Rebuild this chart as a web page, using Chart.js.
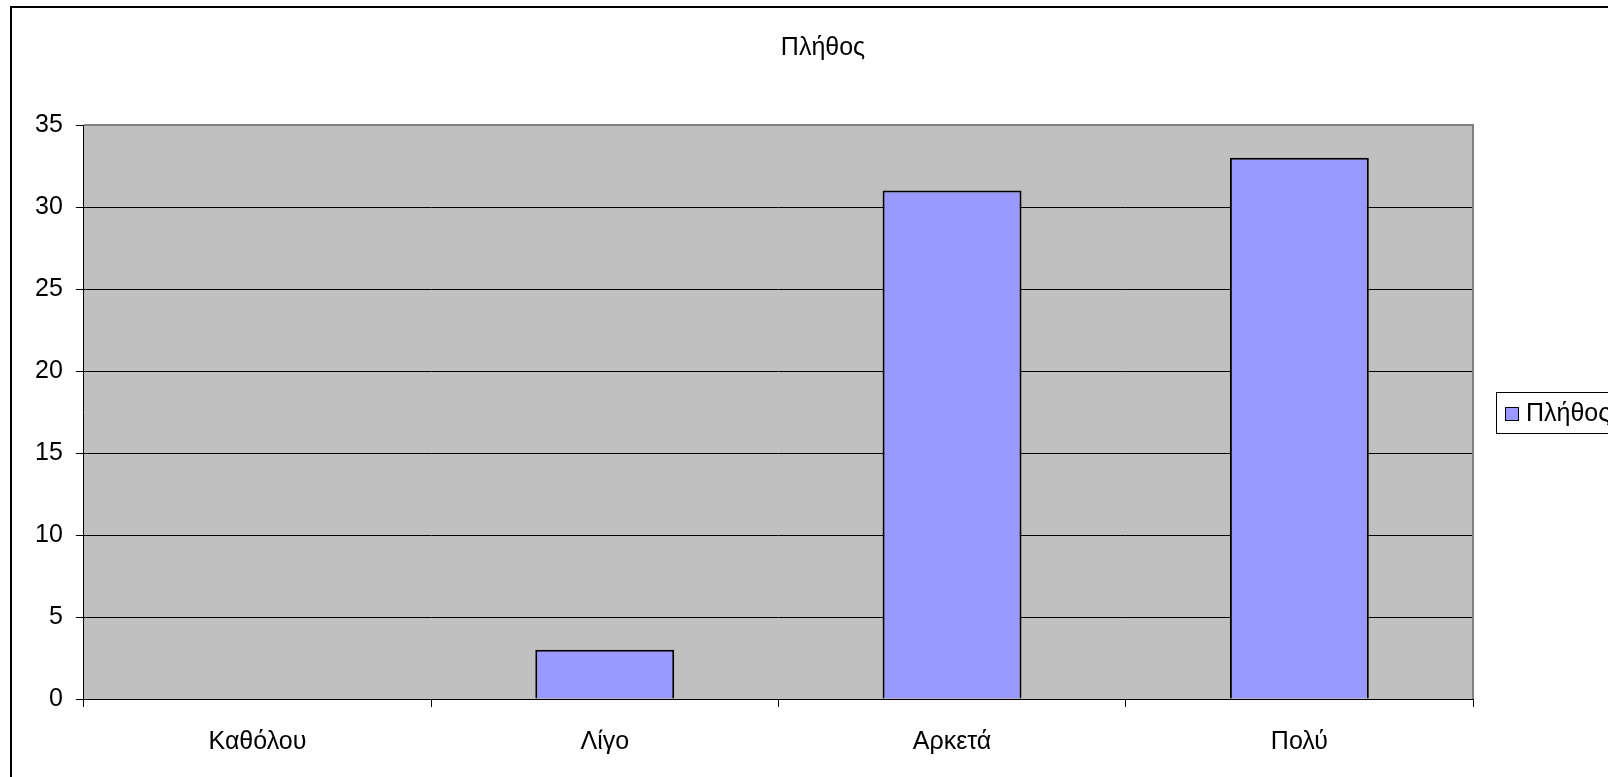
<!DOCTYPE html>
<html>
<head>
<meta charset="utf-8">
<script src="https://cdn.jsdelivr.net/npm/chart.js@4/dist/chart.umd.min.js"></script>
<style>
  html, body { margin: 0; padding: 0; background: #ffffff; }
  #wrap { width: 1608px; height: 777px; position: relative; }
</style>
</head>
<body>
<div id="wrap"><canvas id="plethosChart"></canvas></div>
<script>
const categories = ['Καθόλου', 'Λίγο', 'Αρκετά', 'Πολύ'];
const counts = [0, 3, 31, 33];
const seriesName = 'Πλήθος';
const chartTitle = 'Πλήθος';
const yTicks = [0, 5, 10, 15, 20, 25, 30, 35];

const FONT = "'Liberation Sans', Arial, sans-serif";
const FONT_SIZE = 25;

// grey plot background, outer frame, title and the boxed legend on the right
const excelLook = {
    id: 'excelLook',
    beforeDraw(chart) {
        const { ctx, chartArea: a } = chart;
        ctx.save();
        ctx.fillStyle = '#ffffff';
        ctx.fillRect(0, 0, chart.width, chart.height);
        ctx.strokeStyle = '#000000';
        ctx.lineWidth = 2;
        ctx.strokeRect(11, 7, chart.width + 50, chart.height + 50);
        ctx.fillStyle = '#c0c0c0';
        ctx.fillRect(a.left, a.top, a.right - a.left, a.bottom - a.top);

        // title (the Excel frame is wider than the picture, so it sits right of the plot centre)
        ctx.fillStyle = '#000000';
        ctx.font = FONT_SIZE + 'px ' + FONT;
        ctx.textAlign = 'center';
        ctx.textBaseline = 'middle';
        ctx.fillText(chartTitle, 823, 48);
        ctx.restore();
    },
    afterDraw(chart) {
        const { ctx, chartArea: a } = chart;
        ctx.save();
        ctx.strokeStyle = '#808080';
        ctx.lineWidth = 2;
        ctx.beginPath();
        ctx.moveTo(a.left, a.top);
        ctx.lineTo(a.right, a.top);
        ctx.lineTo(a.right, a.bottom);
        ctx.stroke();

        // legend
        const ds = chart.data.datasets[0];
        const lx = a.right + 23, ly = 392;
        ctx.fillStyle = '#ffffff';
        ctx.fillRect(lx, ly, 200, 41);
        ctx.strokeStyle = '#000000';
        ctx.lineWidth = 1;
        ctx.strokeRect(lx + 0.5, ly + 0.5, 200, 41);
        ctx.fillStyle = ds.backgroundColor;
        ctx.fillRect(lx + 9, ly + 15, 14, 14);
        ctx.strokeRect(lx + 9.5, ly + 15.5, 13, 13);
        ctx.fillStyle = '#000000';
        ctx.font = FONT_SIZE + 'px ' + FONT;
        ctx.textBaseline = 'middle';
        ctx.fillText(ds.label, lx + 30, ly + 22);
        ctx.restore();
    }
};

const ctx = document.getElementById('plethosChart').getContext('2d');

new Chart(ctx, {
    type: 'bar',
    data: {
        labels: categories,
        datasets: [{
            label: seriesName,
            data: counts,
            backgroundColor: '#9999ff',
            borderColor: '#000000',
            borderWidth: 2,
            categoryPercentage: 1,
            barPercentage: 0.4
        }]
    },
    options: {
        responsive: true,
        maintainAspectRatio: false,
        animation: false,
        layout: {
            padding: { left: 22, right: 135, top: 125, bottom: 0 }
        },
        plugins: {
            legend: { display: false },
            tooltip: { enabled: false },
            title: { display: false }
        },
        scales: {
            x: {
                grid: {
                    drawOnChartArea: false,
                    drawTicks: true,
                    tickLength: 8,
                    color: '#000000'
                },
                border: { color: '#000000', width: 1 },
                ticks: {
                    color: '#000000',
                    padding: 20,
                    font: { family: FONT, size: FONT_SIZE }
                }
            },
            y: {
                min: 0,
                max: 35,
                afterBuildTicks(axis) {
                    axis.ticks = yTicks.map(v => ({ value: v }));
                },
                grid: {
                    color: '#000000',
                    lineWidth: 1,
                    tickLength: 8
                },
                border: { color: '#000000', width: 1 },
                ticks: {
                    color: '#000000',
                    padding: 13,
                    font: { family: FONT, size: FONT_SIZE }
                }
            }
        }
    },
    plugins: [excelLook]
});
</script>
</body>
</html>
